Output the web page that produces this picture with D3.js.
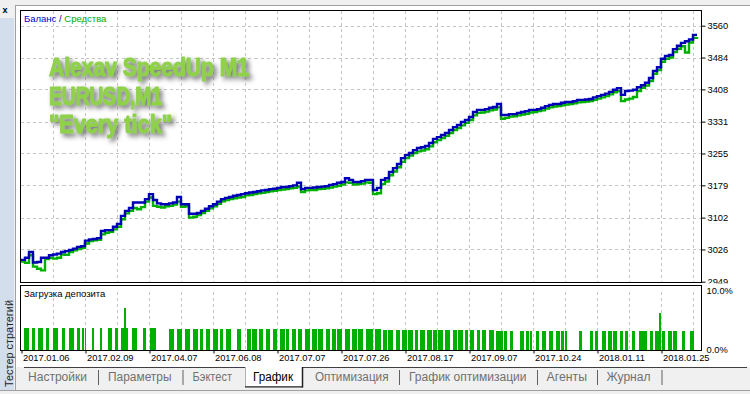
<!DOCTYPE html>
<html><head><meta charset="utf-8">
<script src="https://cdn.jsdelivr.net/npm/d3@7"></script>
<style>body{margin:0;background:#f0f0f0;overflow:hidden}svg{display:block}</style>
</head><body>
<svg id="c" width="750" height="394"></svg>
<script>
// ---------------- DATA ----------------
const balance = [3001,3006,3020,2995,2996,3006,3006,3012,3014,3016,
3020,3022,3025,3028,3032,3034,3047,3050,3051,3053,
3070,3072,3072,3080,3087,3106,3118,3125,3138,3138,
3138,3146,3158,3144,3136,3134,3134,3136,3138,3151,
3134,3134,3111,3111,3113,3118,3123,3129,3134,3140,
3146,3149,3151,3154,3156,3158,3160,3162,3163,3165,
3167,3168,3170,3171,3173,3175,3175,3177,3179,3185,
3170,3173,3173,3174,3175,3176,3177,3180,3182,3185,
3187,3196,3192,3187,3187,3189,3192,3192,3168,3173,
3192,3196,3211,3220,3230,3244,3251,3256,3263,3268,
3270,3273,3280,3290,3294,3299,3304,3311,3318,3323,
3330,3335,3342,3354,3359,3359,3361,3364,3366,3373,
3347,3347,3349,3349,3352,3354,3356,3359,3359,3361,
3364,3368,3371,3373,3373,3376,3378,3378,3380,3383,
3383,3384,3385,3389,3392,3395,3398,3402,3407,3411,
3395,3404,3405,3407,3413,3418,3424,3435,3452,3461,
3481,3488,3490,3504,3512,3519,3523,3527,3538,3538];

const equity = [2997,2994,3012,2985,2980,2976,3003,3006,3004,3006,
3014,3013,3020,3024,3027,3030,3040,3046,3048,3049,
3062,3066,3068,3074,3080,3098,3112,3118,3125,3122,
3127,3140,3150,3130,3128,3126,3129,3130,3133,3140,
3128,3129,3102,3104,3108,3113,3118,3124,3129,3135,
3141,3144,3146,3148,3150,3151,3155,3156,3158,3160,
3161,3163,3165,3166,3168,3169,3170,3172,3173,3176,
3163,3167,3168,3168,3170,3171,3172,3174,3176,3178,
3181,3186,3185,3181,3182,3183,3186,3185,3158,3160,
3182,3188,3203,3212,3222,3235,3244,3250,3256,3260,
3262,3265,3272,3282,3287,3292,3297,3304,3311,3316,
3322,3328,3335,3346,3352,3353,3355,3358,3360,3365,
3338,3340,3343,3344,3346,3348,3350,3353,3354,3356,
3358,3362,3365,3367,3368,3370,3372,3373,3375,3377,
3378,3379,3380,3383,3386,3389,3392,3396,3401,3404,
3380,3384,3386,3390,3404,3412,3417,3428,3445,3454,
3474,3481,3484,3497,3505,3511,3496,3520,3531,3533];

// deposit load bars: start trade, end trade, load %
const barFrom = [0.8,2.7,4.3,6.3,8.1,10.2,12,14.1,15.2,16,17.7,19.8,21.8,23.5,24.9,25.8,26.3,27.7,30.4,32.3,
37,38.9,41,42.9,44.8,46.2,48.1,49.8,51.3,54.1,56.4,57.8,59.6,61.3,62.9,64.8,66.3,67.7,69.2,71,
72.7,74.3,76.3,77.7,79.1,81,82.7,84.3,86.3,88.5,90.4,91.8,93.8,95.2,96.8,98.5,99.8,101.4,103.1,104.3,
106,107.9,109.3,111,112.3,113.9,115.3,117.1,118.8,120.8,122.3,124.8,126.3,127.3,128.8,130.3,132.1,133.8,135,136,
139.5,142.3,143.5,145.2,146.8,148.1,149.8,151,152.7,154.6,155.6,157.3,158.5,159.5,160.2,161.8,163.1,165.2,167.3];
const barTo = [2.1,3.6,5.6,7.1,9.3,11.1,13.3,14.8,15.8,16.3,18.3,20.3,22.7,24.3,25.8,26.3,26.8,28.9,31.2,33.7,
38.3,40.2,42.3,44.2,45.6,47.3,49.3,50.6,52.4,54.9,57.5,58.9,60.6,62.3,63.9,66,67.1,68.8,70.2,72.3,
73.9,75.6,77.3,78.8,80.2,82.3,83.9,85.6,87.9,89.9,91.6,93.1,94.8,96.4,97.9,99.3,101,102.7,103.9,105.6,
107.3,108.9,110.4,111.8,113.3,114.8,116.2,118.3,120.4,121.6,122.9,125.8,127.1,127.7,129.6,131.2,132.9,134.8,135.8,136.4,
140.2,143.1,144.3,146.3,147.7,148.9,150.6,151.8,153.5,155.4,156.4,158.1,159.5,160,161,162.7,163.9,166,168.3];
const barLoad = [3.8,3.8,3.8,3.8,3.8,3.8,3.8,3.8,3.8,3.8,3.8,3.8,3.8,3.8,3.8,7.2,3.8,3.8,3.8,3.8,
3.6,3.6,3.6,3.6,3.6,3.6,3.6,3.6,3.6,3.6,3.6,3.6,3.6,3.6,3.6,3.6,3.6,3.6,3.6,3.6,
3.6,3.6,3.6,3.6,3.6,3.6,3.6,3.6,3.6,3.6,3.4,3.4,3.4,3.4,3.4,3.4,3.4,3.4,3.4,3.4,
3.4,3.4,3.4,3.4,3.4,3.4,3.4,3.4,3.2,3.2,3.2,3.2,3.2,3.2,3.2,3.2,3.2,3.2,3.2,3.2,
3.2,3.2,3.2,3.2,3.2,3.2,3.2,3.2,3.2,3.2,3.2,3.2,3.2,6.3,3.2,3.2,3.2,3.2,3.2];

const yTicks = [3560,3484,3408,3331,3255,3179,3102,3026,2949];
const loadTicks = [10,0];
const dateLabels = ["2017.01.06","2017.02.09","2017.04.07","2017.06.08","2017.07.07","2017.07.26",
  "2017.08.17","2017.09.07","2017.10.24","2018.01.11","2018.01.25"];
const titleLines = ["Alexav SpeedUp M1","EURUSD,M1","\"Every tick\""];
const tabLabels = ["Настройки","Параметры","Бэктест","График","Оптимизация","График оптимизации","Агенты","Журнал"];
const activeTab = 3;

// ---------------- LAYOUT ----------------
const L = 20.5, R = 701.5, T = 10.5, B = 282.5, DT = 285.5, DB = 350.5;
const FONT = '"Liberation Sans", Arial, sans-serif';
const tabX = [28,108,192.5,253,315,409,546.5,606.5];
const tabW = [59,63.5,39.5,40,73.5,117.5,40.5,44];
const sepX = [98,182.5,399,537,597,661.5];

const svg = d3.select('#c');
const x = d3.scaleLinear().domain([0, balance.length - 1]).range([21, 697]);
const y = d3.scaleLinear().domain([2949, 3560]).range([281.7, 25.7]);
const yD = d3.scaleLinear().domain([0, 10]).range([350, 291]);

// window chrome
svg.append('rect').attr('width',750).attr('height',394).attr('fill','#f0f0f0');
svg.append('rect').attr('x',16).attr('y',6).attr('width',734).attr('height',361).attr('fill','#fff');
svg.append('rect').attr('x',0).attr('y',18).attr('width',14).attr('height',372).attr('fill','#d2deeb');
svg.append('line').attr('x1',15.5).attr('x2',15.5).attr('y1',5).attr('y2',390).attr('stroke','#a0a0a0');
svg.append('line').attr('x1',15).attr('x2',750).attr('y1',5.5).attr('y2',5.5).attr('stroke','#a0a0a0');
svg.append('text').attr('x',2.5).attr('y',12.5).attr('font-family',FONT).attr('font-weight','bold')
  .attr('font-size',9).attr('fill','#000').text('x');
svg.append('text').attr('transform','translate(12.5,387) rotate(-90)').attr('font-family',FONT)
  .attr('font-size',11).attr('fill','#222').attr('textLength',87).attr('lengthAdjust','spacingAndGlyphs')
  .text('Тестер стратегий');

// grid
const grid = svg.append('g').attr('stroke','#c4c4c4').attr('stroke-dasharray','3,3').attr('shape-rendering','crispEdges');
const vIdx = d3.range(8, balance.length, 8);
vIdx.forEach(i => {
  const gx = Math.round(x(i)) + 0.5;
  grid.append('line').attr('x1',gx).attr('x2',gx).attr('y1',T).attr('y2',B);
  grid.append('line').attr('x1',gx).attr('x2',gx).attr('y1',DT).attr('y2',DB);
});
yTicks.slice(0, -1).forEach(v => {
  const gy = Math.round(y(v)) + 0.5;
  grid.append('line').attr('x1',L).attr('x2',R).attr('y1',gy).attr('y2',gy);
});

// title
const defs = svg.append('defs');
const f = defs.append('filter').attr('id','sh').attr('x','-10%').attr('y','-40%').attr('width','130%').attr('height','190%');
f.append('feGaussianBlur').attr('in','SourceAlpha').attr('stdDeviation',2.4);
f.append('feOffset').attr('dx',3).attr('dy',3).attr('result','b');
f.append('feFlood').attr('flood-color','#6a6a6a').attr('flood-opacity',1);
f.append('feComposite').attr('in2','b').attr('operator','in');
const fm = f.append('feMerge'); fm.append('feMergeNode'); fm.append('feMergeNode').attr('in','SourceGraphic');
const tw = [200,113,123], tb = [76,105,133];
svg.append('g').attr('filter','url(#sh)').selectAll('text').data(titleLines).join('text')
  .attr('x',49).attr('y',(d,i)=>tb[i]).attr('font-family','"Liberation Sans Narrow", "Liberation Sans", Arial, sans-serif')
  .attr('font-weight','bold').attr('font-size',25).attr('fill','#8fd14a')
  .attr('stroke','#8fd14a').attr('stroke-width',1.1).attr('stroke-linejoin','round')
  .attr('textLength',(d,i)=>tw[i]).attr('lengthAdjust','spacingAndGlyphs').text(d=>d);

// lines
const line = d3.line().x((d,i)=>x(i)).y(d=>y(d)).curve(d3.curveStepAfter);
svg.append('path').datum(equity).attr('d',line).attr('fill','none').attr('stroke','#00b000').attr('stroke-width',2.4);
svg.append('path').datum(balance).attr('d',line).attr('fill','none').attr('stroke','#0000b4').attr('stroke-width',2.4);

// legend
const lg = svg.append('text').attr('x',24).attr('y',21.5).attr('font-family',FONT).attr('font-size',9.5);
lg.append('tspan').attr('fill','#0000c8').text('Баланс');
lg.append('tspan').attr('fill','#00008b').text(' / ');
lg.append('tspan').attr('fill','#00a800').text('Средства');

// main y axis
const ya = svg.append('g').attr('transform',`translate(${R},0)`)
  .call(d3.axisRight(y).tickValues(yTicks).tickFormat(d=>d).tickSize(4).tickPadding(2));
ya.select('.domain').remove();
ya.selectAll('text').attr('font-family',FONT).attr('font-size',9.3).attr('fill','#000');
ya.selectAll('line').attr('stroke','#000');

// deposit panel
svg.append('rect').attr('x',16).attr('y',283.5).attr('width',734).attr('height',6).attr('fill','#fff');
svg.append('g').attr('shape-rendering','crispEdges').selectAll('rect').data(barLoad).join('rect')
  .attr('x',(d,i)=>x(barFrom[i])).attr('width',(d,i)=>x(barTo[i])-x(barFrom[i]))
  .attr('y',d=>yD(d)).attr('height',d=>yD(0)-yD(d)).attr('fill','#00b000');
svg.append('text').attr('x',24).attr('y',296.5).attr('font-family',FONT).attr('font-size',9.5)
  .attr('fill','#000').text('Загрузка депозита');
const da = svg.append('g').attr('transform',`translate(${R},0)`)
  .call(d3.axisRight(yD).tickValues(loadTicks).tickFormat(d=>d.toFixed(1)+'%').tickSize(0).tickPadding(5));
da.select('.domain').remove();
da.selectAll('text').attr('font-family',FONT).attr('font-size',9.3).attr('fill','#000');

// frames
const fr = svg.append('g').attr('fill','none').attr('stroke','#000').attr('shape-rendering','crispEdges');
fr.append('rect').attr('x',L).attr('y',T).attr('width',R-L).attr('height',B-T);
fr.append('rect').attr('x',L).attr('y',DT).attr('width',R-L).attr('height',DB-DT);

// date axis
const tickIdx = dateLabels.map((d,i)=>i*16);
const xa = svg.append('g').attr('transform',`translate(0.5,${DB})`)
  .call(d3.axisBottom(x).tickValues(tickIdx).tickFormat((d,i)=>dateLabels[i]).tickSize(3));
xa.select('.domain').remove();
xa.selectAll('line').attr('stroke','#000');
xa.selectAll('text').attr('font-family',FONT).attr('font-size',9.3).attr('fill','#000')
  .attr('text-anchor','start').attr('x',1).attr('y',10.5).attr('dy',0);

// tabs
svg.append('line').attr('x1',24).attr('x2',245).attr('y1',367.5).attr('y2',367.5).attr('stroke','#404040');
svg.append('line').attr('x1',303).attr('x2',747).attr('y1',367.5).attr('y2',367.5).attr('stroke','#404040');
svg.append('rect').attr('x',245).attr('y',367).attr('width',58).attr('height',20).attr('fill','#fff');
svg.append('line').attr('x1',245.5).attr('x2',245.5).attr('y1',367).attr('y2',387).attr('stroke','#b0b0b0');
svg.append('line').attr('x1',302.5).attr('x2',302.5).attr('y1',367).attr('y2',387.5).attr('stroke','#202020').attr('stroke-width',1.5);
svg.append('line').attr('x1',245).attr('x2',303).attr('y1',386.8).attr('y2',386.8).attr('stroke','#202020').attr('stroke-width',1.3);
svg.append('g').selectAll('line').data(sepX).join('line')
  .attr('x1',d=>d+0.5).attr('x2',d=>d+0.5).attr('y1',370).attr('y2',385).attr('stroke','#606060');
svg.append('g').selectAll('text').data(tabLabels).join('text')
  .attr('x',(d,i)=>tabX[i]).attr('y',381).attr('font-family',FONT).attr('font-size',12)
  .attr('fill',(d,i)=>i===activeTab?'#000':'#707070')
  .attr('textLength',(d,i)=>tabW[i]).attr('lengthAdjust','spacingAndGlyphs').text(d=>d);
svg.append('line').attr('x1',0).attr('x2',750).attr('y1',390.5).attr('y2',390.5).attr('stroke','#a0a0a0');
</script>
</body></html>
